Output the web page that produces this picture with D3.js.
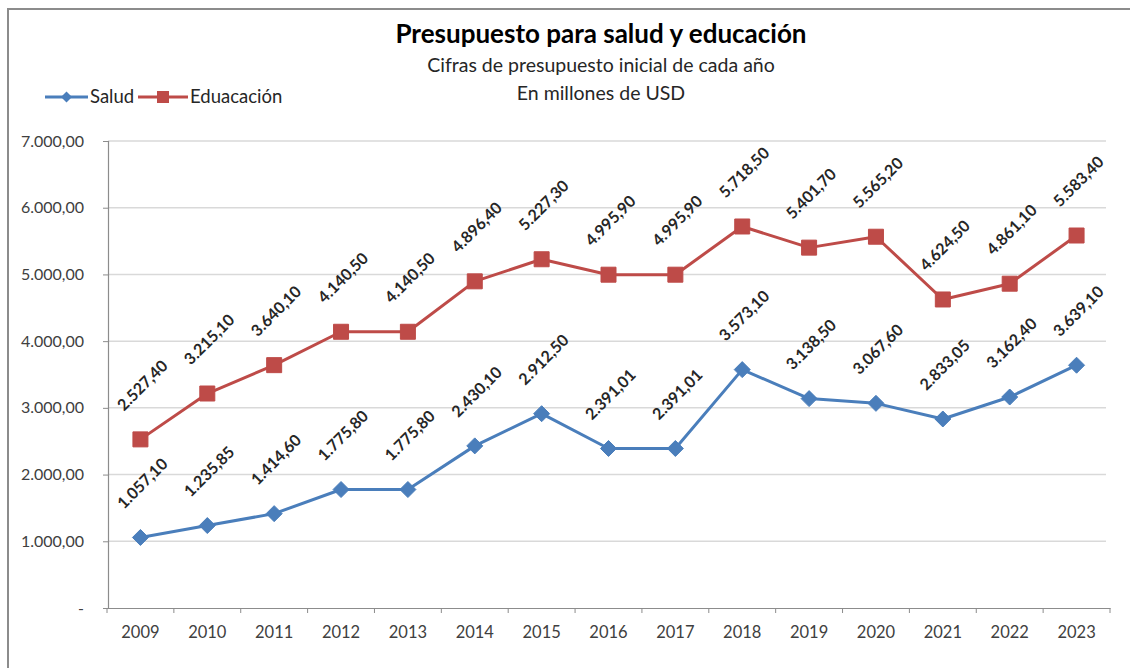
<!DOCTYPE html>
<html>
<head>
<meta charset="utf-8">
<script src="https://cdn.jsdelivr.net/npm/d3@7"></script>
<style>
  body { margin: 0; background: #fff; }
  svg { display: block; font-family: Lato, "Open Sans", sans-serif; }
</style>
</head>
<body>
<svg id="chart" width="1130" height="668"></svg>
<script>
const years = ['2009', '2010', '2011', '2012', '2013', '2014', '2015', '2016', '2017', '2018', '2019', '2020', '2021', '2022', '2023']
const salud = [1057.10, 1235.85, 1414.60, 1775.80, 1775.80, 2430.10, 2912.50, 2391.01, 2391.01, 3573.10, 3138.50, 3067.60, 2833.05, 3162.40, 3639.10]
const educacion = [2527.40, 3215.10, 3640.10, 4140.50, 4140.50, 4896.40, 5227.30, 4995.90, 4995.90, 5718.50, 5401.70, 5565.20, 4624.50, 4861.10, 5583.40]
const yTicks = [0, 1000, 2000, 3000, 4000, 5000, 6000, 7000]

const blue = '#4a7ebb'
const red = '#be4b48'

const svg = d3.select('#chart')

// outer frame (only top and left edges are visible in the crop)
svg.append('rect')
  .attr('x', 8).attr('y', 9)
  .attr('width', 1200).attr('height', 700)
  .attr('fill', 'none')
  .attr('stroke', '#8c8c8c')
  .attr('stroke-width', 2)

const x = d3.scaleBand().domain(years).range([107, 1110])
const y = d3.scaleLinear().domain([0, 7000]).range([608, 141])

// format like 1.057,10
const fmt = d3.formatLocale({ decimal: ',', thousands: '.', grouping: [3], currency: ['', ''] }).format(',.2f')

// markers, r = half width
const diamond = r => `M0,${-r}L${r},0L0,${r}L${-r},0Z`
const square = r => `M${-r},${-r}H${r}V${r}H${-r}Z`

// gridlines
svg.append('g')
  .selectAll('line')
  .data(yTicks.filter(d => d > 0))
  .join('line')
  .attr('x1', 108).attr('x2', 1106)
  .attr('y1', d => y(d)).attr('y2', d => y(d))
  .attr('stroke', '#d9d9d9')
  .attr('stroke-width', 1.5)

// y axis
const yAxis = svg.append('g')
  .attr('transform', 'translate(108,0)')
  .call(d3.axisLeft(y).tickValues(yTicks).tickSize(5).tickPadding(19)
    .tickFormat(d => d === 0 ? '-' : fmt(d)))
yAxis.select('.domain').attr('stroke', '#8c8c8c').attr('stroke-width', 1.2)
yAxis.selectAll('.tick line').attr('stroke', '#8c8c8c')
yAxis.selectAll('text')
  .attr('font-size', 16)
  .attr('fill', '#404040')
  .attr('font-family', 'Lato, sans-serif')

// x axis
const xAxis = svg.append('g')
  .attr('transform', 'translate(0,608)')
  .call(d3.axisBottom(x).tickSize(0).tickPadding(18))
xAxis.select('.domain').attr('stroke', '#8c8c8c').attr('stroke-width', 1.2)
xAxis.selectAll('text')
  .attr('font-size', 16.5)
  .attr('fill', '#404040')
  .attr('font-family', 'Lato, sans-serif')
// tick marks between categories
xAxis.selectAll('line.sep')
  .data(years.concat(['end']))
  .join('line')
  .attr('class', 'sep')
  .attr('x1', (d, i) => x.range()[0] + i * x.bandwidth())
  .attr('x2', (d, i) => x.range()[0] + i * x.bandwidth())
  .attr('y1', 0).attr('y2', 5)
  .attr('stroke', '#8c8c8c')

const cx = d => x(d) + x.bandwidth() / 2

function drawSeries (values, color, marker) {
  const pts = years.map((yr, i) => ({ yr, v: values[i] }))
  const line = d3.line().x(d => cx(d.yr)).y(d => y(d.v))
  svg.append('path')
    .datum(pts)
    .attr('d', line)
    .attr('fill', 'none')
    .attr('stroke', color)
    .attr('stroke-width', 3)
    .attr('stroke-linejoin', 'round')

  svg.append('g')
    .selectAll('path')
    .data(pts)
    .join('path')
    .attr('transform', d => `translate(${cx(d.yr)},${y(d.v)})`)
    .attr('d', marker)
    .attr('fill', color)
    .attr('stroke', color)

  svg.append('g')
    .selectAll('text')
    .data(pts)
    .join('text')
    .attr('transform', d => `translate(${cx(d.yr) + 3},${y(d.v) - 53}) rotate(-45)`)
    .attr('text-anchor', 'middle')
    .attr('dominant-baseline', 'middle')
    .attr('font-size', 16)
    .attr('font-weight', 'bold')
    .attr('fill', '#262626')
    .text(d => fmt(d.v))
}

drawSeries(educacion, red, square(7.5))
drawSeries(salud, blue, diamond(8))

// titles
svg.append('text')
  .attr('x', 601).attr('y', 43)
  .attr('text-anchor', 'middle')
  .attr('font-size', 26)
  .attr('font-weight', 'bold')
  .attr('fill', '#000')
  .text('Presupuesto para salud y educación')
svg.append('text')
  .attr('x', 601).attr('y', 72)
  .attr('text-anchor', 'middle')
  .attr('font-size', 19.5)
  .attr('fill', '#262626')
  .text('Cifras de presupuesto inicial de cada año')
svg.append('text')
  .attr('x', 601).attr('y', 100)
  .attr('text-anchor', 'middle')
  .attr('font-size', 19.5)
  .attr('fill', '#262626')
  .text('En millones de USD')

// legend
const legend = [
  { name: 'Salud', color: blue, marker: diamond(5.5), x: 45, w: 43 },
  { name: 'Eduacación', color: red, marker: square(6), x: 138, w: 50 }
]
const lg = svg.append('g')
  .selectAll('g')
  .data(legend)
  .join('g')
  .attr('transform', d => `translate(${d.x},97)`)
lg.append('line')
  .attr('x1', 0).attr('x2', d => d.w)
  .attr('stroke', d => d.color)
  .attr('stroke-width', 3)
lg.append('path')
  .attr('transform', d => `translate(${d.w / 2},0)`)
  .attr('d', d => d.marker)
  .attr('fill', d => d.color)
lg.append('text')
  .attr('x', d => d.w + 2)
  .attr('dy', '0.35em')
  .attr('font-size', 18.5)
  .attr('fill', '#262626')
  .text(d => d.name)
</script>
</body>
</html>
